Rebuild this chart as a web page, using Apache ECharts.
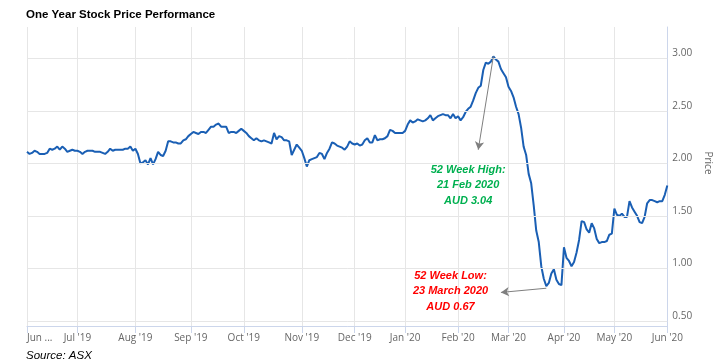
<!DOCTYPE html>
<html>
<head>
<meta charset="utf-8">
<script src="https://cdn.jsdelivr.net/npm/echarts@6/dist/echarts.min.js"></script>
<style>
html,body{margin:0;padding:0;background:#fff;}
#chart{width:721px;height:361px;}
</style>
</head>
<body>
<div id="chart"></div>
<script>
// Month tick labels (first trading day of each month)
const monthLabels = ["Jun ...","Jul '19","Aug '19","Sep '19","Oct '19","Nov '19","Dec '19","Jan '20","Feb '20","Mar '20","Apr '20","May '20","Jun '20"];

// Daily closing prices (AUD), one array per month
const jun19 = [2.11,2.09,2.10,2.12,2.11,2.09,2.09,2.09,2.10,2.14,2.13,2.14,2.16,2.13,2.16,2.14,2.11,2.12,2.13,2.12];
const jul19 = [2.12,2.11,2.09,2.11,2.12,2.12,2.12,2.11,2.11,2.11,2.10,2.09,2.11,2.14,2.12,2.13,2.13,2.13,2.13,2.14,2.14,2.16,2.12];
const aug19 = [2.14,2.09,2.00,2.01,2.03,1.99,2.05,1.99,2.04,2.11,2.08,2.07,2.12,2.21,2.21,2.20,2.20,2.19,2.19,2.22,2.23,2.26];
const sep19 = [2.28,2.30,2.29,2.28,2.30,2.30,2.29,2.32,2.35,2.35,2.37,2.38,2.35,2.35,2.35,2.29,2.30,2.30,2.29,2.31,2.33];
const oct19 = [2.31,2.29,2.26,2.24,2.22,2.24,2.22,2.21,2.22,2.21,2.20,2.19,2.29,2.23,2.26,2.25,2.22,2.22,2.21,2.08,2.13,2.18,2.15];
const nov19 = [2.12,2.05,1.97,2.03,2.04,2.05,2.06,2.10,2.09,2.04,2.10,2.14,2.20,2.19,2.17,2.16,2.15,2.13,2.16,2.21,2.19];
const dec19 = [2.18,2.19,2.17,2.18,2.22,2.24,2.20,2.20,2.27,2.22,2.23,2.23,2.24,2.26,2.32,2.31,2.29,2.29,2.29,2.29];
const jan20 = [2.31,2.37,2.41,2.39,2.40,2.42,2.41,2.40,2.41,2.43,2.46,2.41,2.43,2.45,2.46,2.47,2.46,2.46,2.43,2.47,2.43];
const feb20 = [2.45,2.41,2.44,2.49,2.52,2.54,2.60,2.67,2.72,2.74,2.89,2.96,2.95,2.97,3.02,2.99,2.97,2.90,2.86,2.82];
const mar20 = [2.73,2.69,2.63,2.54,2.47,2.34,2.16,2.08,1.90,1.81,1.60,1.36,1.25,1.02,0.90,0.83,0.86,0.95,0.99,0.89,0.85,0.84];
const apr20 = [1.20,1.10,1.07,1.02,1.06,1.15,1.27,1.45,1.44,1.37,1.34,1.43,1.38,1.28,1.24,1.25,1.25,1.26,1.32,1.33];
const may20 = [1.57,1.51,1.50,1.52,1.49,1.49,1.64,1.58,1.54,1.50,1.44,1.43,1.49,1.62,1.65,1.65,1.64,1.63,1.64,1.64,1.70];
const jun20 = [1.79];
const monthValues = [jun19,jul19,aug19,sep19,oct19,nov19,dec19,jan20,feb20,mar20,apr20,may20,jun20];

// Price gridlines / labels
const priceTicks = [0.5,1.0,1.5,2.0,2.5,3.0];

// Annotations
const highText = "52 Week High:\n21 Feb 2020\nAUD 3.04";
const lowText = "52 Week Low:\n23 March 2020\nAUD 0.67";
const highIndex = 185, highValue = 3.02;   // 21 Feb 2020
const lowIndex = 206, lowValue = 0.81;     // 23 Mar 2020

const categories = [];
const values = [];
const monthStart = new Set();
monthValues.forEach((arr, m) => {
  arr.forEach((v, k) => {
    if (k === 0) monthStart.add(categories.length);
    categories.push(monthLabels[m] + '#' + k);
    values.push(v);
  });
});

const chart = echarts.init(document.getElementById('chart'), null, {renderer: 'canvas'});
const isMonthStart = (idx) => monthStart.has(idx);
const axisFont = '"Open Sans", sans-serif';

chart.setOption({
  animation: false,
  backgroundColor: '#ffffff',
  title: [
    {text: 'One Year Stock Price Performance', left: 21, top: 4,
     textStyle: {fontFamily: '"Liberation Sans", Arial, sans-serif', fontWeight: 'bold', fontSize: 11.5, color: '#000'}},
    {text: 'Source: ASX', left: 21, top: 345,
     textStyle: {fontFamily: '"Liberation Sans", Arial, sans-serif', fontStyle: 'italic', fontWeight: 'normal', fontSize: 11.5, color: '#000'}}
  ],
  grid: {left: 27, right: 45, top: 27, bottom: 35, containLabel: false},
  xAxis: {
    type: 'category',
    data: categories,
    boundaryGap: false,
    axisLine: {show: true, lineStyle: {color: '#ccd6eb', width: 1}},
    axisTick: {show: true, interval: isMonthStart, length: 7, lineStyle: {color: '#ccd6eb'}},
    splitLine: {show: true, interval: isMonthStart, lineStyle: {color: '#e6e6e6', width: 1}},
    axisLabel: {
      interval: isMonthStart,
      formatter: (v) => v.split('#')[0],
      color: '#666', fontFamily: axisFont, fontSize: 10, margin: 7,
      alignMinLabel: 'left'
    }
  },
  yAxis: {
    type: 'value',
    position: 'right',
    min: 0.45, max: 3.3, interval: 0.05,
    name: 'Price',
    nameLocation: 'middle',
    nameRotate: -90,
    nameGap: 30,
    nameTextStyle: {color: '#666', fontFamily: axisFont, fontSize: 10, padding: [0, 27, 0, 0]},
    axisLine: {show: true, lineStyle: {color: '#ccd6eb', width: 1}},
    axisTick: {show: false},
    splitLine: {show: false},
    axisLabel: {
      color: '#666', fontFamily: axisFont, fontSize: 10, margin: 5,
      verticalAlign: 'bottom',
      formatter: (v) => {
        const t = priceTicks.find(p => Math.abs(p - v) < 1e-6);
        return t === undefined ? '' : t.toFixed(2);
      }
    }
  },
  series: [
    {
      type: 'line', z: 1, data: [], silent: true,
      markLine: {
        silent: true, symbol: 'none', animation: false,
        label: {show: false},
        lineStyle: {color: '#e6e6e6', type: 'solid', width: 1},
        data: priceTicks.map(p => ({yAxis: p}))
      }
    },
    {
      type: 'line', z: 3,
      data: values,
      showSymbol: false,
      symbol: 'none',
      lineStyle: {color: '#1a5fb4', width: 2},
      markLine: {
        silent: true, animation: false,
        symbol: ['none', 'arrow'], symbolSize: [7, 8],
        label: {show: false},
        lineStyle: {color: '#7f7f7f', type: 'solid', width: 1},
        data: [
          [{coord: [highIndex, highValue]}, {coord: [179, 2.13]}],
          [{coord: [lowIndex, lowValue]}, {coord: [188, 0.77]}]
        ]
      },
      markPoint: {
        silent: true, animation: false,
        symbol: 'circle', symbolSize: 0,
        data: [
          {coord: [175, 1.79], label: {show: true, formatter: highText, color: '#00b050'}},
          {coord: [168, 0.78], label: {show: true, formatter: lowText, color: '#ff0000'}}
        ],
        label: {
          position: 'inside', align: 'center', verticalAlign: 'middle',
          fontFamily: '"Liberation Sans", Arial, sans-serif', fontStyle: 'italic', fontWeight: 'bold',
          fontSize: 11, lineHeight: 15.5
        }
      }
    }
  ]
});
</script>
</body>
</html>
